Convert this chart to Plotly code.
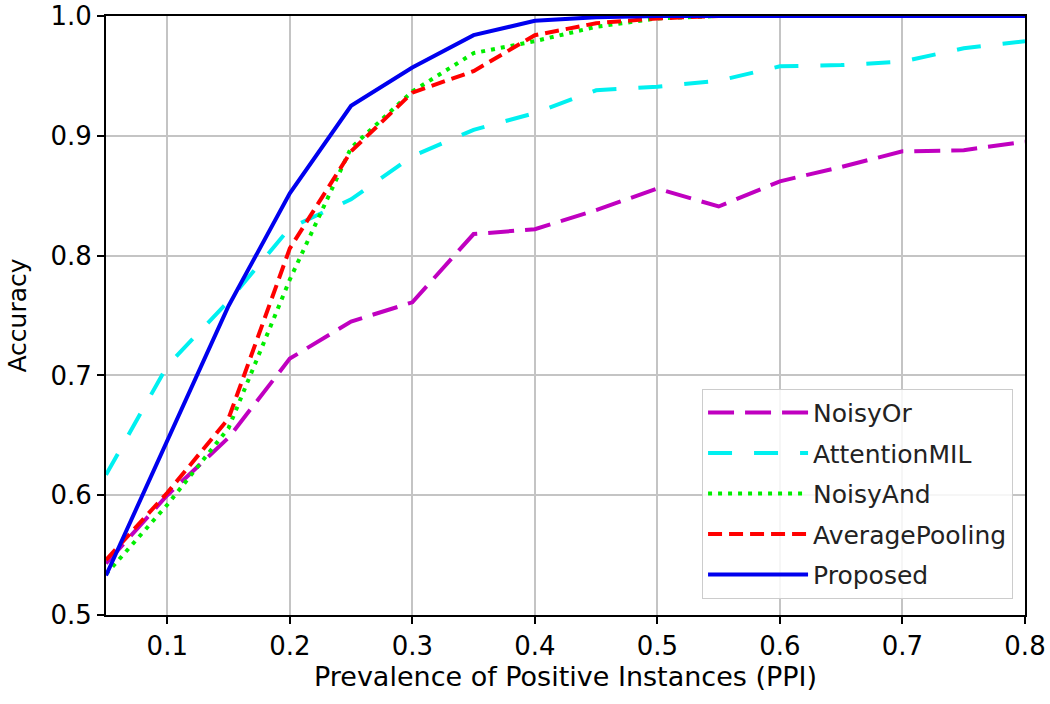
import plotly.graph_objects as go

ppi = [0.05, 0.10, 0.15, 0.20, 0.25, 0.30, 0.35, 0.40, 0.45, 0.50, 0.55, 0.60, 0.65, 0.70, 0.75, 0.80]

noisy_or = [0.543, 0.600, 0.648, 0.714, 0.745, 0.761, 0.818, 0.822, 0.838, 0.856, 0.841, 0.862, 0.874, 0.887, 0.888, 0.895]
attention_mil = [0.617, 0.708, 0.762, 0.823, 0.847, 0.883, 0.905, 0.919, 0.938, 0.941, 0.946, 0.958, 0.959, 0.962, 0.973, 0.979]
noisy_and = [0.534, 0.592, 0.656, 0.780, 0.890, 0.937, 0.969, 0.979, 0.991, 0.998, 1.0, 1.0, 1.0, 1.0, 1.0, 1.0]
average_pooling = [0.546, 0.602, 0.664, 0.806, 0.887, 0.936, 0.954, 0.984, 0.994, 0.998, 1.0, 1.0, 1.0, 1.0, 1.0, 1.0]
proposed = [0.533, 0.646, 0.758, 0.852, 0.925, 0.957, 0.984, 0.996, 0.999, 1.0, 1.0, 1.0, 1.0, 1.0, 1.0, 1.0]

x_ticks = [0.1, 0.2, 0.3, 0.4, 0.5, 0.6, 0.7, 0.8]
y_ticks = [0.5, 0.6, 0.7, 0.8, 0.9, 1.0]

series = [
    ("NoisyOr", noisy_or, "#c000c0", "26px,11px"),
    ("AttentionMIL", attention_mil, "#00f0f0", "24px,22px"),
    ("NoisyAnd", noisy_and, "#00ee00", "4px,6px"),
    ("AveragePooling", average_pooling, "#ff0000", "14px,7px"),
    ("Proposed", proposed, "#0000ee", "solid"),
]

fig = go.Figure()
for name, vals, color, dash in series:
    fig.add_trace(go.Scatter(
        x=ppi, y=vals, mode="lines", name=name, legendgroup=name,
        line=dict(color=color, width=4, dash=dash),
    ))

font_family = "DejaVu Sans"
fig.update_layout(
    width=1050, height=704,
    margin=dict(l=106, r=25, t=16, b=89),
    paper_bgcolor="white", plot_bgcolor="white",
    font=dict(family=font_family, size=25, color="black"),
    showlegend=True,
    legend=dict(
        x=0.987, y=0.027, xanchor="right", yanchor="bottom",
        bgcolor="rgba(255,255,255,0.85)", bordercolor="#cccccc", borderwidth=1,
        font=dict(family=font_family, size=25, color="#222222"),
        itemwidth=100, tracegroupgap=5,
    ),
)
fig.update_xaxes(
    range=[0.05, 0.8], tickvals=x_ticks, tickformat=".1f", automargin=False,
    ticklabeloverflow="allow",
    showline=True, linecolor="black", linewidth=2, mirror=True,
    ticks="outside", ticklen=7, tickwidth=2, tickcolor="black",
    showgrid=True, gridcolor="#c4c4c4", gridwidth=2, zeroline=False,
    title=dict(text="Prevalence of Positive Instances (PPI)", font=dict(size=27), standoff=6),
    tickfont=dict(size=26),
)
fig.update_yaxes(
    range=[0.5, 1.0], tickvals=y_ticks, tickformat=".1f", automargin=False,
    ticklabeloverflow="allow",
    showline=True, linecolor="black", linewidth=2, mirror=True,
    ticks="outside", ticklen=7, tickwidth=2, tickcolor="black",
    showgrid=True, gridcolor="#c4c4c4", gridwidth=2, zeroline=False,
    title=dict(text="Accuracy", font=dict(size=25), standoff=17),
    tickfont=dict(size=26),
)

fig.write_html(
    "out.html",
    config={"displayModeBar": False},
    post_script="document.body.style.margin='0px';document.body.style.padding='0px';",
)
